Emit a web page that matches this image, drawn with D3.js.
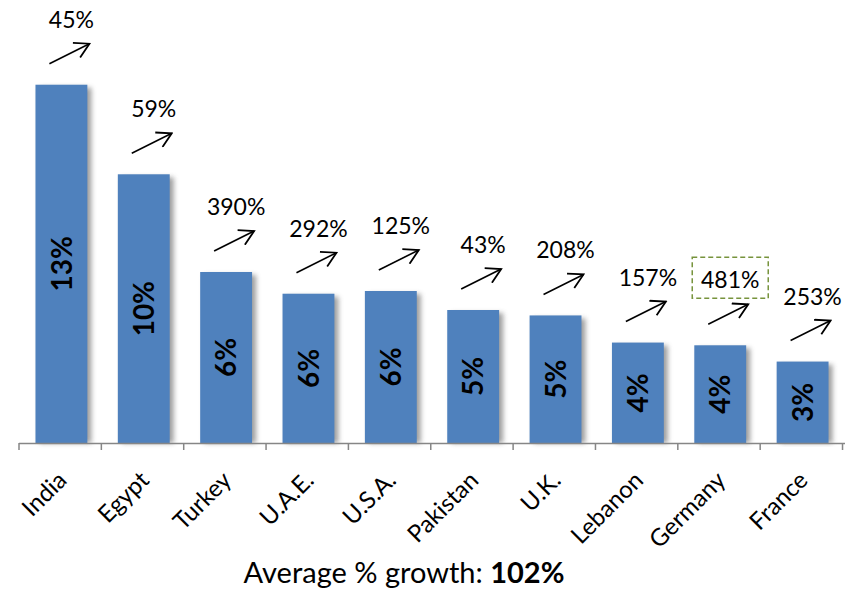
<!DOCTYPE html>
<html>
<head>
<meta charset="utf-8">
<script src="https://cdn.jsdelivr.net/npm/d3@7"></script>
<style>
  body { margin: 0; background: #fff; }
  text { font-family: Lato, "Open Sans", sans-serif; }
</style>
</head>
<body>
<div id="chart"></div>
<script>
// chart data
var countries = ['India', 'Egypt', 'Turkey', 'U.A.E.', 'U.S.A.', 'Pakistan', 'U.K.', 'Lebanon', 'Germany', 'France']
var share = [13.2, 9.9, 6.3, 5.5, 5.6, 4.9, 4.7, 3.7, 3.6, 3.0]
var growth = [45, 59, 390, 292, 125, 43, 208, 157, 481, 253]
var highlight = 'Germany'
var avgGrowth = 102

var width = 846, height = 592
var margin = { top: 10, right: 1, bottom: 149, left: 19 }

var svg = d3.select('#chart')
    .append('svg')
    .attr('width', width)
    .attr('height', height)

var defs = svg.append('defs')
defs.append('filter')
    .attr('id', 'shadow')
    .attr('x', '-20%').attr('y', '-5%')
    .attr('width', '160%').attr('height', '110%')
    .append('feGaussianBlur')
    .attr('stdDeviation', 2.5)

var marker = defs.append('marker')
    .attr('id', 'head')
    .attr('viewBox', '0 0 20 20')
    .attr('refX', 18).attr('refY', 10)
    .attr('markerWidth', 18).attr('markerHeight', 18)
    .attr('markerUnits', 'userSpaceOnUse')
    .attr('orient', 'auto')
marker.append('path')
    .attr('d', 'M2,1 L18,10 L2,19')
    .attr('fill', 'none')
    .attr('stroke', '#000')
    .attr('stroke-width', 2)

var x = d3.scaleBand()
    .domain(countries)
    .range([margin.left, width - margin.right])
    .paddingInner(0.37)
    .paddingOuter(0.2)

// band boundaries for the tick marks
var step = x.step()
var x0 = margin.left

var y = d3.scaleLinear()
    .domain([0, 14])
    .range([height - margin.bottom, 63])

var data = countries.map(function (c, i) {
    return { country: c, share: share[i], growth: growth[i] }
})

// bars with soft shadow
var bars = svg.append('g')
bars.selectAll('.shadow')
    .data(data).enter()
    .append('rect')
    .attr('x', d => x(d.country) + 4)
    .attr('y', d => y(d.share) + 3)
    .attr('width', x.bandwidth())
    .attr('height', d => y(0) - y(d.share) - 3)
    .attr('fill', '#7f7f7f')
    .attr('opacity', 0.75)
    .attr('filter', 'url(#shadow)')

bars.selectAll('.bar')
    .data(data).enter()
    .append('rect')
    .attr('x', d => x(d.country))
    .attr('y', d => y(d.share))
    .attr('width', x.bandwidth())
    .attr('height', d => y(0) - y(d.share))
    .attr('fill', '#4F81BD')

// value labels inside bars
bars.selectAll('.val')
    .data(data).enter()
    .append('text')
    .attr('transform', d => 'translate(' + (x(d.country) + x.bandwidth() / 2) + ',' + ((y(d.share) + y(0)) / 2) + ') rotate(-90)')
    .attr('text-anchor', 'middle')
    .attr('dy', '0.36em')
    .style('font-size', '28px')
    .style('font-weight', 'bold')
    .text(d => Math.round(d.share) + '%')

// x axis
var axisY = y(0)
var axis = svg.append('g')
axis.append('line')
    .attr('x1', x0).attr('x2', width - margin.right)
    .attr('y1', axisY + 0.5).attr('y2', axisY + 0.5)
    .attr('stroke', '#868686').attr('stroke-width', 1.5)
axis.selectAll('.tick')
    .data(d3.range(countries.length + 1)).enter()
    .append('line')
    .attr('x1', i => x0 + i * step).attr('x2', i => x0 + i * step)
    .attr('y1', axisY).attr('y2', axisY + 7)
    .attr('stroke', '#868686').attr('stroke-width', 1.5)

axis.selectAll('.lab')
    .data(countries).enter()
    .append('text')
    .attr('transform', d => 'translate(' + (x(d) + x.bandwidth() / 2 - 6) + ',' + (axisY + 26) + ') rotate(-45)')
    .attr('text-anchor', 'end')
    .attr('dy', '0.75em')
    .style('font-size', '24px')
    .text(d => d)

// growth arrows and labels
var ann = svg.append('g')
ann.selectAll('.arrow')
    .data(data).enter()
    .append('line')
    .attr('x1', d => x(d.country) + x.bandwidth() / 2 - 12)
    .attr('y1', d => y(d.share) - 21)
    .attr('x2', d => x(d.country) + x.bandwidth() / 2 + 28)
    .attr('y2', d => y(d.share) - 41)
    .attr('stroke', '#000')
    .attr('stroke-width', 1.6)
    .attr('marker-end', 'url(#head)')

ann.selectAll('.growth')
    .data(data).enter()
    .append('text')
    .attr('x', d => x(d.country) + x.bandwidth() / 2 + 10)
    .attr('y', d => y(d.share) - 57)
    .attr('text-anchor', 'middle')
    .style('font-size', '23px')
    .text(d => d.growth + '%')

// dashed box round the highlighted growth label
var hd = data.find(d => d.country == highlight)
var hx = x(hd.country) + x.bandwidth() / 2 + 10
var hy = y(hd.share) - 57
ann.append('rect')
    .attr('x', hx - 38).attr('y', hy - 31)
    .attr('width', 76).attr('height', 41)
    .attr('fill', 'none')
    .attr('stroke', '#77933C')
    .attr('stroke-width', 1.5)
    .attr('stroke-dasharray', '5,3')

// footer
var foot = svg.append('text')
    .attr('x', 404)
    .attr('y', 583)
    .attr('text-anchor', 'middle')
    .style('font-size', '29px')
foot.append('tspan').text('Average % growth: ')
foot.append('tspan').style('font-weight', 'bold').text(avgGrowth + '%')
</script>
</body>
</html>
